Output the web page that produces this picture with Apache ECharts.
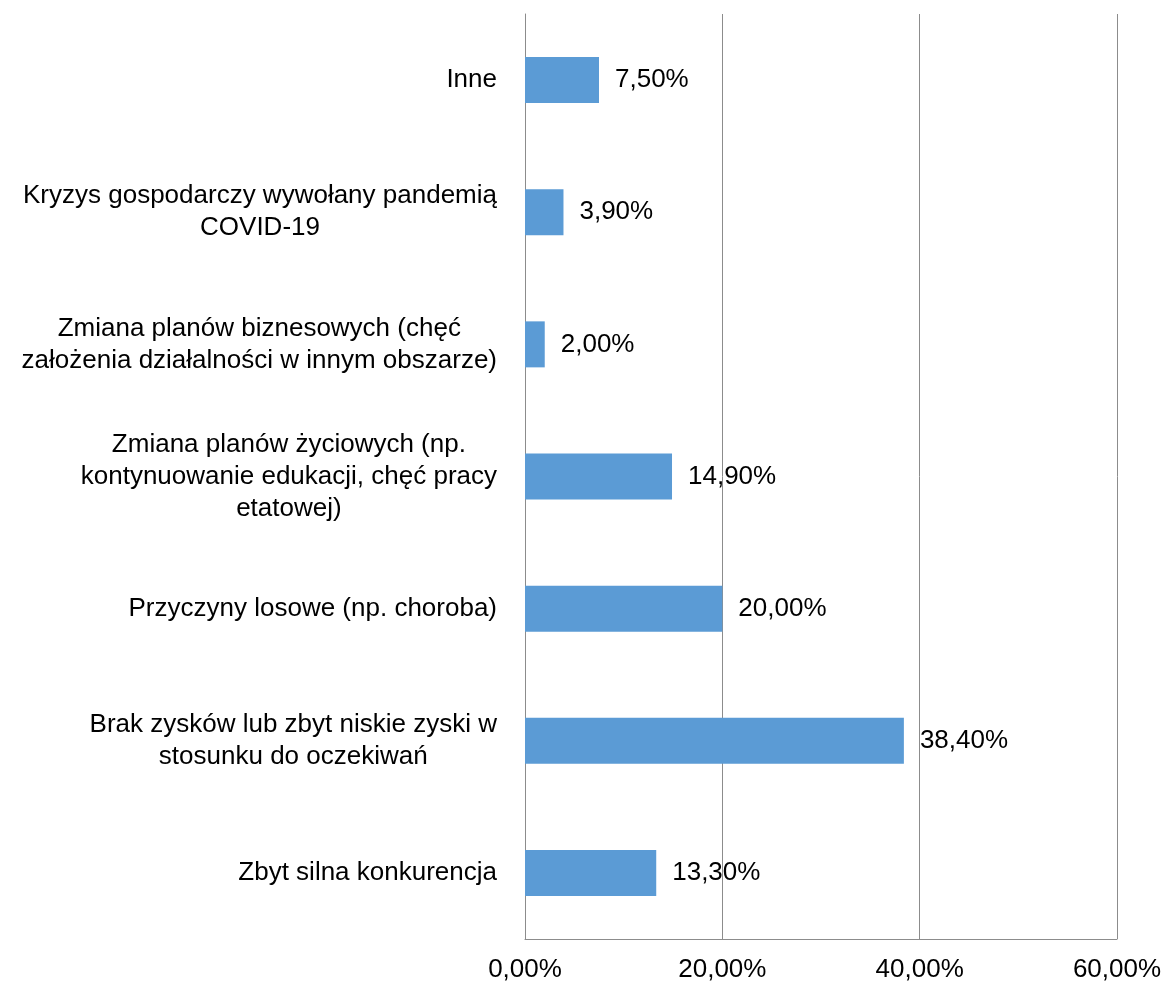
<!DOCTYPE html>
<html>
<head>
<meta charset="utf-8">
<script src="https://cdn.jsdelivr.net/npm/echarts@6/dist/echarts.min.js"></script>
<style>
html, body { margin: 0; padding: 0; background: #fff; }
#chart { width: 1165px; height: 983px; }
</style>
</head>
<body>
<div id="chart"></div>
<script>
// kategorie od góry do dołu
var categories = [
	'Inne',
	'Kryzys gospodarczy wywołany pandemią\nCOVID-19',
	'Zmiana planów biznesowych (chęć\nzałożenia działalności w innym obszarze)',
	'Zmiana planów życiowych (np.\nkontynuowanie edukacji, chęć pracy\netatowej)',
	'Przyczyny losowe (np. choroba)',
	'Brak zysków lub zbyt niskie zyski w\nstosunku do oczekiwań',
	'Zbyt silna konkurencja'
];
var values = [7.5, 3.9, 2.0, 14.9, 20.0, 38.4, 13.3]; // procenty
var xTicks = [0, 20, 40, 60];

function pct(v) { //format 12,34%
	return v.toFixed(2).replace('.', ',') + '%';
}

var myChart = echarts.init(document.getElementById('chart'));

var option = {
	animation: false,
	textStyle: {
		fontFamily: 'Liberation Sans, Arial, sans-serif'
	},
	grid: {
		left: 525,
		right: 48,
		top: 14,
		bottom: 44
	},
	xAxis: {
		type: 'value',
		min: xTicks[0],
		max: xTicks[xTicks.length - 1],
		interval: 20,
		axisLine: { show: true, lineStyle: { color: '#8c8c8c', width: 1 } },
		axisTick: { show: false },
		splitLine: { show: true, lineStyle: { color: '#8c8c8c', width: 1 } },
		axisLabel: {
			color: '#000',
			fontSize: 26,
			margin: 18,
			formatter: function (v) { return pct(v); }
		}
	},
	yAxis: {
		type: 'category',
		inverse: true,
		data: categories,
		axisLine: { show: true, lineStyle: { color: '#8c8c8c', width: 1 } },
		axisTick: { show: false },
		axisLabel: {
			color: '#000',
			fontSize: 26,
			margin: 28,
			lineHeight: 32,
			formatter: function (v) {
				return v.split('\n').map(function (l) { return '{c|' + l + '}'; }).join('\n');
			},
			rich: {
				c: { align: 'center', fontSize: 26, lineHeight: 32, color: '#000' }
			}
		}
	},
	series: [{
		type: 'bar',
		data: values,
		barWidth: 46,
		itemStyle: { color: '#5B9BD5' },
		label: {
			show: true,
			position: 'right',
			distance: 16,
			color: '#000',
			fontSize: 26,
			formatter: function (p) { return pct(p.value); }
		}
	}]
};

myChart.setOption(option);
</script>
</body>
</html>
